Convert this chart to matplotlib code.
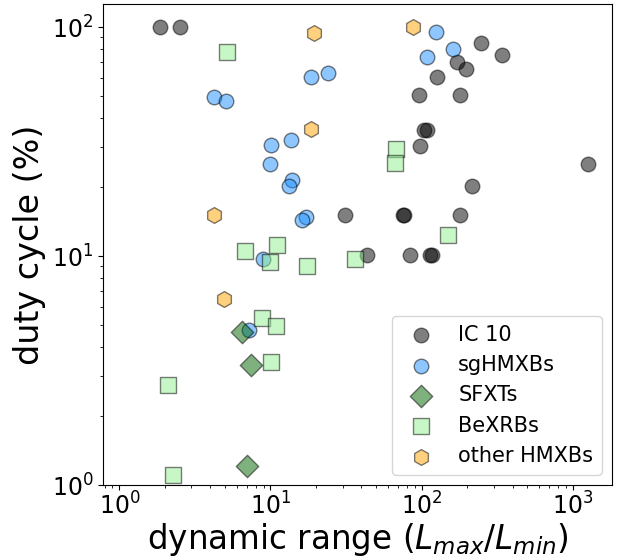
import numpy as np
import matplotlib
matplotlib.use("Agg")
from matplotlib import pyplot as plt

# IC 10 sources
ic10_dr = [1.87, 2.5, 248, 340, 171, 198, 126, 95.5, 179, 103, 108, 98, 1270, 217,
           31, 75, 76, 179, 43.7, 84, 113, 118]
ic10_dc = [100, 100, 85, 75.5, 70.5, 65.3, 60.5, 50.5, 50.5, 35.5, 35.5, 30.3, 25.2, 20.3,
           15.1, 15.1, 15.1, 15.1, 10.1, 10.1, 10.1, 10.1]

# supergiant HMXBs
sg_dr = [18.6, 24, 4.24, 5.04, 13.7, 10.1, 9.9, 13.8, 13.3, 17.2, 16.1, 125, 161, 109, 8.9, 7.26]
sg_dc = [60.3, 63, 49.4, 47.5, 32.2, 30.4, 25.1, 21.5, 20.3, 14.8, 14.4, 95.5, 80, 73.8, 9.7, 4.75]

# SFXTs
sfxt_dr = [6.46, 7.45, 7.0]
sfxt_dc = [4.64, 3.34, 1.21]

# BeXRBs
be_dr = [5.14, 6.73, 11.1, 10.0, 17.4, 36, 8.76, 10.8, 10.1, 2.09, 2.27, 68, 66.6, 150]
be_dc = [77.6, 10.5, 11.2, 9.44, 9.04, 9.68, 5.38, 4.94, 3.43, 2.74, 1.11, 29.3, 25.4, 12.4]

# other HMXBs
oth_dr = [19.4, 18.4, 4.24, 87.6, 4.94]
oth_dc = [94.2, 35.7, 15.1, 100, 6.47]

fig = plt.figure(figsize=(6.21, 5.58), dpi=100)
ax = fig.add_subplot(111)
fig.subplots_adjust(left=0.166, right=0.9855, top=0.9928, bottom=0.1308)

ax.scatter(ic10_dr, ic10_dc, s=110, marker='o', color='k', edgecolor='k', alpha=0.5, label='IC 10')
ax.scatter(sg_dr, sg_dc, s=110, marker='o', color='dodgerblue', edgecolor='k', alpha=0.5, label='sgHMXBs')
ax.scatter(sfxt_dr, sfxt_dc, s=130, marker='D', color='darkgreen', edgecolor='k', alpha=0.5, label='SFXTs')
ax.scatter(be_dr, be_dc, s=130, marker='s', color='lightgreen', edgecolor='k', alpha=0.5, label='BeXRBs')
ax.scatter(oth_dr, oth_dc, s=130, marker='h', color='orange', edgecolor='k', alpha=0.5, label='other HMXBs')

ax.set_xscale('log')
ax.set_yscale('log')
ax.set_xlim(0.78, 1820)
ax.set_ylim(1, 126)
ax.tick_params(labelsize=17)
ax.tick_params(axis='x', pad=2)
ax.set_xlabel(r'dynamic range ($L_{max}/L_{min}$)', fontsize=23.5, labelpad=1)
ax.set_ylabel('duty cycle (%)', fontsize=24)
ax.legend(loc='lower right', fontsize=15)

plt.savefig('out.png', dpi=100)
